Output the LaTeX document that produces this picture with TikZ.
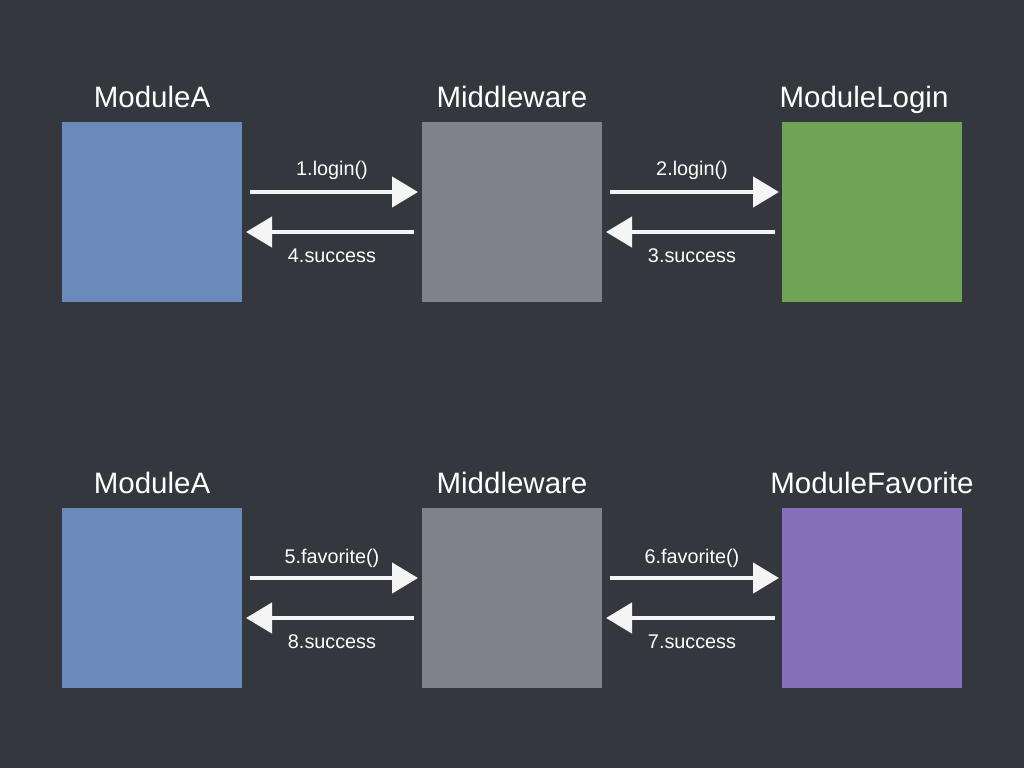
\documentclass[tikz,border=0pt]{standalone}
\usepackage{fontspec}
\setmainfont{Liberation Sans}
\usetikzlibrary{arrows.meta}
\definecolor{board}{RGB}{52,56,62}
\definecolor{bluebox}{RGB}{106,138,188}
\definecolor{graybox}{RGB}{128,130,138}
\definecolor{greenbox}{RGB}{112,164,86}
\definecolor{purplebox}{RGB}{134,112,188}
\definecolor{chalk}{RGB}{245,245,245}
\begin{document}
\begin{tikzpicture}[x=1pt,y=-1pt,
  modbox/.style={minimum width=180pt,minimum height=180pt,inner sep=0pt,outer sep=0pt},
  title/.style={text=white,font=\fontsize{29.5}{32}\selectfont,inner sep=0pt,anchor=base},
  lbl/.style={text=white,font=\fontsize{19.8}{22}\selectfont,inner sep=0pt,anchor=base},
  chalkarrow/.style={draw=chalk,line width=4.5pt,-{Triangle[length=26pt,width=30pt]}}
]
\fill[board] (0,0) rectangle (1024,768);
\useasboundingbox (0,0) rectangle (1024,768);

% top row
\node[title] (tA) at (152,107) {ModuleA};
\node[title] (tM) at (512,107) {Middleware};
\node[title] (tL) at (864,107) {ModuleLogin};
\node[modbox,fill=bluebox] (A1) at (152,212) {};
\node[modbox,fill=graybox] (M1) at (512,212) {};
\node[modbox,fill=greenbox] (L1) at (872,212) {};

\coordinate (a1s) at (250,192); \coordinate (a1e) at (418,192);
\coordinate (a4s) at (414,232); \coordinate (a4e) at (246,232);
\coordinate (a2s) at (610,192); \coordinate (a2e) at (779,192);
\coordinate (a3s) at (775,232); \coordinate (a3e) at (606,232);
\draw[chalkarrow] (a1s) -- (a1e);
\draw[chalkarrow] (a4s) -- (a4e);
\draw[chalkarrow] (a2s) -- (a2e);
\draw[chalkarrow] (a3s) -- (a3e);
\node[lbl] (l1) at (332,175) {1.login()};
\node[lbl] (l4) at (332,262) {4.success};
\node[lbl] (l2) at (692,175) {2.login()};
\node[lbl] (l3) at (692,262) {3.success};

% bottom row
\node[title] (bA) at (152,493) {ModuleA};
\node[title] (bM) at (512,493) {Middleware};
\node[title] (bF) at (872,493) {ModuleFavorite};
\node[modbox,fill=bluebox] (A2) at (152,598) {};
\node[modbox,fill=graybox] (M2) at (512,598) {};
\node[modbox,fill=purplebox] (F2) at (872,598) {};

\coordinate (b5s) at (250,578); \coordinate (b5e) at (418,578);
\coordinate (b8s) at (414,618); \coordinate (b8e) at (246,618);
\coordinate (b6s) at (610,578); \coordinate (b6e) at (779,578);
\coordinate (b7s) at (775,618); \coordinate (b7e) at (606,618);
\draw[chalkarrow] (b5s) -- (b5e);
\draw[chalkarrow] (b8s) -- (b8e);
\draw[chalkarrow] (b6s) -- (b6e);
\draw[chalkarrow] (b7s) -- (b7e);
\node[lbl] (l5) at (332,563) {5.favorite()};
\node[lbl] (l8) at (332,648) {8.success};
\node[lbl] (l6) at (692,563) {6.favorite()};
\node[lbl] (l7) at (692,648) {7.success};
\end{tikzpicture}
\end{document}
